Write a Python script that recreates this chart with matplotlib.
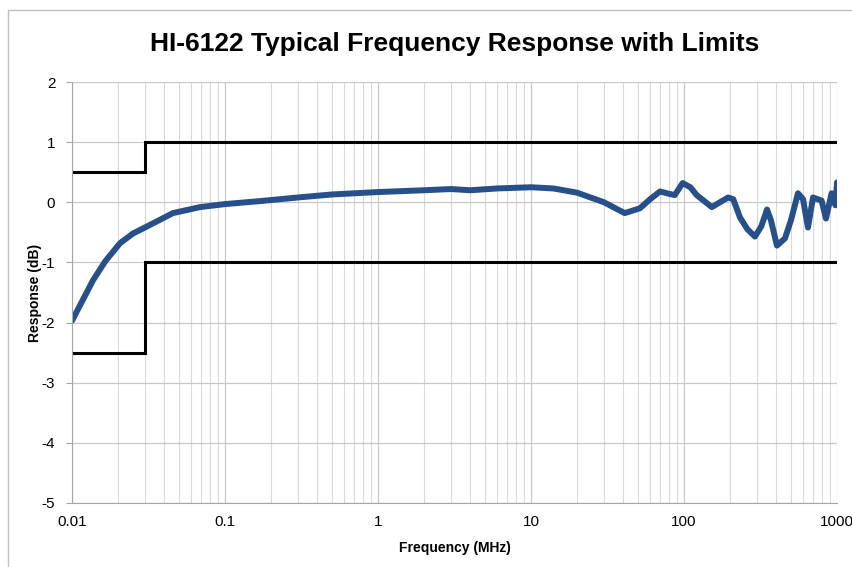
import matplotlib.pyplot as plt
from matplotlib.patches import Rectangle
from matplotlib.ticker import FixedLocator, NullFormatter

plt.rcParams['font.family'] = ['Liberation Sans', 'DejaVu Sans']
plt.rcParams['axes.unicode_minus'] = False

freq = [0.01, 0.0137, 0.0165, 0.0206, 0.025, 0.031, 0.0457, 0.0687, 0.1, 0.17,
        0.3, 0.5, 1, 2, 3, 4, 6, 10, 14, 20, 30, 41, 51.5, 60, 69.7, 80, 87,
        98, 110, 121, 152, 194, 210, 232, 260, 291, 320, 349, 370, 405, 457,
        500, 556, 600, 646, 697, 750, 793, 847, 922, 977, 1000]
resp = [-1.97, -1.3, -0.98, -0.68, -0.52, -0.40, -0.18, -0.08, -0.03, 0.02,
        0.08, 0.13, 0.17, 0.2, 0.22, 0.2, 0.23, 0.25, 0.23, 0.16, 0.0, -0.18,
        -0.1, 0.05, 0.18, 0.14, 0.12, 0.32, 0.25, 0.12, -0.08, 0.08, 0.05,
        -0.25, -0.45, -0.57, -0.4, -0.12, -0.3, -0.72, -0.6, -0.3, 0.15, 0.05,
        -0.42, 0.08, 0.05, 0.03, -0.27, 0.15, -0.05, 0.33]

# limit lines
lim_freq = [0.01, 0.03, 0.03, 1000]
upper = [0.5, 0.5, 1, 1]
lower = [-2.5, -2.5, -1, -1]

fig = plt.figure(figsize=(8.52, 5.67), dpi=100)
ax = fig.add_axes([72 / 852, 1 - 503 / 567, (837 - 72) / 852, (503 - 82) / 567])

# chart frame
fig.patches.append(Rectangle((8 / 852, -0.1), 1.2, 1 - 10 / 567 + 0.1,
                             transform=fig.transFigure, fill=False,
                             edgecolor='#bfbfbf', lw=1.0))

ax.plot(lim_freq, upper, color='black', lw=2.2, solid_joinstyle='miter')
ax.plot(lim_freq, lower, color='black', lw=2.2, solid_joinstyle='miter')
ax.plot(freq, resp, color='#27508a', lw=4.3, solid_capstyle='round',
        solid_joinstyle='round')

ax.set_xscale('log')
ax.set_xlim(0.01, 1000)
ax.set_ylim(-5, 2)
ax.set_xticks([0.01, 0.1, 1, 10, 100, 1000])
ax.set_xticklabels(['0.01', '0.1', '1', '10', '100', '1000'])
minors = [m * 10.0 ** e for e in range(-2, 3) for m in range(2, 10)]
ax.xaxis.set_minor_locator(FixedLocator(minors))
ax.xaxis.set_minor_formatter(NullFormatter())
ax.set_yticks(range(-5, 3))

ax.grid(True, which='major', color='#c8c8c8', lw=0.9)
ax.grid(True, which='minor', axis='x', color='#d9d9d9', lw=0.8)
ax.set_axisbelow(True)

for s in ['top', 'right']:
    ax.spines[s].set_visible(False)
for s in ['left', 'bottom']:
    ax.spines[s].set_color('#a6a6a6')
ax.tick_params(axis='both', which='both', colors='#a6a6a6', labelcolor='black',
               labelsize=11)
ax.tick_params(axis='x', which='both', length=0, pad=9)
ax.tick_params(axis='y', length=4, pad=8)

ax.set_title('HI-6122 Typical Frequency Response with Limits', fontsize=19,
             fontweight='bold', pad=22)
ax.set_xlabel('Frequency (MHz)', fontsize=10, fontweight='bold', labelpad=8)
ax.set_ylabel('Response (dB)', fontsize=10, fontweight='bold', labelpad=0)

fig.savefig('out.png', dpi=100)
